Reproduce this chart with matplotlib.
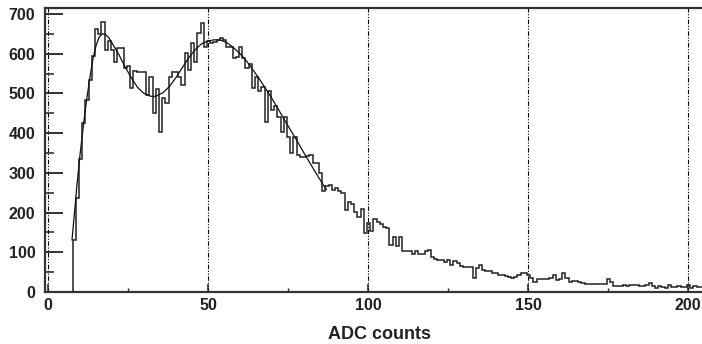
import numpy as np
import matplotlib
matplotlib.use("Agg")
import matplotlib.pyplot as plt
from matplotlib.ticker import MultipleLocator

# histogram contents, 1 ADC count per bin, first bin starts at 7.7
first_edge = 7.7
counts = [
    131, 236, 334, 425, 484, 534, 593, 662, 650, 681,
    610, 631, 610, 580, 614, 614, 564, 570, 513, 557,
    555, 555, 555, 496, 541, 450, 510, 404, 489, 475,
    542, 555, 555, 542, 521, 601, 559, 626, 579, 651,
    677, 618, 633, 628, 630, 635, 640, 635, 617, 617,
    589, 592, 618, 589, 563, 574, 513, 541, 505, 517,
    429, 505, 458, 468, 441, 404, 441, 391, 351, 391,
    345, 341, 341, 343, 345, 324, 324, 299, 255, 267,
    270, 257, 262, 254, 249, 206, 227, 222, 202, 189,
    208, 148, 173, 154, 183, 175, 170, 164, 160, 118,
    138, 115, 138, 104, 104, 104, 96, 104, 96, 96,
    104, 106, 89, 82, 80, 80, 76, 80, 68, 78,
    72, 66, 63, 63, 63, 35, 60, 68, 55, 52,
    52, 47, 47, 43, 43, 40, 38, 35, 38, 43,
    47, 49, 42, 35, 26, 32, 32, 33, 33, 35,
    43, 30, 33, 47, 35, 26, 28, 27, 24, 22,
    21, 21, 21, 21, 21, 20, 21, 32, 24, 15,
    15, 15, 18, 15, 18, 18, 18, 15, 15, 18,
    22, 15, 9, 15, 13, 9, 18, 13, 13, 15,
    12, 13, 18, 9, 15, 12, 12,
]

# fit curve
fit_x = [7.5, 8, 8.5, 9, 10, 11, 12, 13, 14, 15, 16, 17, 18, 19, 20,
         22, 24, 26, 28, 30, 32, 33, 34, 36, 38, 40, 42, 44, 46, 48,
         50, 52, 54, 56, 58, 60, 62, 64, 66, 68, 70, 72, 74, 76, 78,
         80, 82, 84, 86, 87]
fit_y = [131, 175, 220, 265, 345, 415, 480, 535, 585, 620, 642, 650, 648, 640, 627,
         600, 568, 540, 515, 500, 493, 492, 494, 502, 518, 540, 565, 590, 610, 625,
         632, 635, 634, 627, 615, 600, 582, 560, 537, 512, 487, 460, 432, 405, 378,
         350, 323, 296, 270, 258]

grid_x = [0, 50, 100, 150, 200]

edges = first_edge + np.arange(len(counts) + 1)

fig = plt.figure(figsize=(7.02, 3.44), dpi=100)
ax = fig.add_axes([45 / 702, 52 / 344, 657 / 702, 284 / 344])

for gx in grid_x:
    ax.axvline(gx, color="black", linewidth=0.8,
               linestyle=(0, (4, 1.5, 1, 1.5, 1, 1.5)), zorder=1)

ax.stairs(counts, edges, baseline=0, color="#222222", linewidth=1.1, zorder=3)
ax.plot(fit_x, fit_y, color="#111111", linewidth=0.9, zorder=4)

ax.set_xlim(-0.94, 204.4)
ax.set_ylim(0, 715)

ax.spines["right"].set_visible(False)
for s in ["left", "bottom", "top"]:
    ax.spines[s].set_linewidth(1.6)
    ax.spines[s].set_color("#333333")

ax.yaxis.set_major_locator(MultipleLocator(100))
ax.yaxis.set_minor_locator(MultipleLocator(50))
ax.xaxis.set_major_locator(MultipleLocator(50))
ax.xaxis.set_minor_locator(MultipleLocator(25))

ax.tick_params(axis="y", which="major", direction="in", length=13, width=1.3,
               color="#222222", labelsize=11.5, pad=7)
ax.tick_params(axis="y", which="minor", direction="in", length=6.5, width=1.1,
               color="#222222")
ax.tick_params(axis="x", which="major", direction="in", length=6, width=1.1,
               color="#222222", labelsize=11.5, pad=4)
ax.tick_params(axis="x", which="minor", direction="in", length=3, width=1.0,
               color="#222222")

for lab in ax.get_xticklabels() + ax.get_yticklabels():
    lab.set_family("Liberation Sans")
    lab.set_fontweight("bold")
    lab.set_color("#222222")

ax.set_xlabel("ADC counts", family="Liberation Sans", fontweight="bold",
              fontsize=13, color="#222222")
# centre the label like the reference
ax.xaxis.set_label_coords((380 - 45) / 657, -0.118)

fig.savefig("out.png", dpi=100)
